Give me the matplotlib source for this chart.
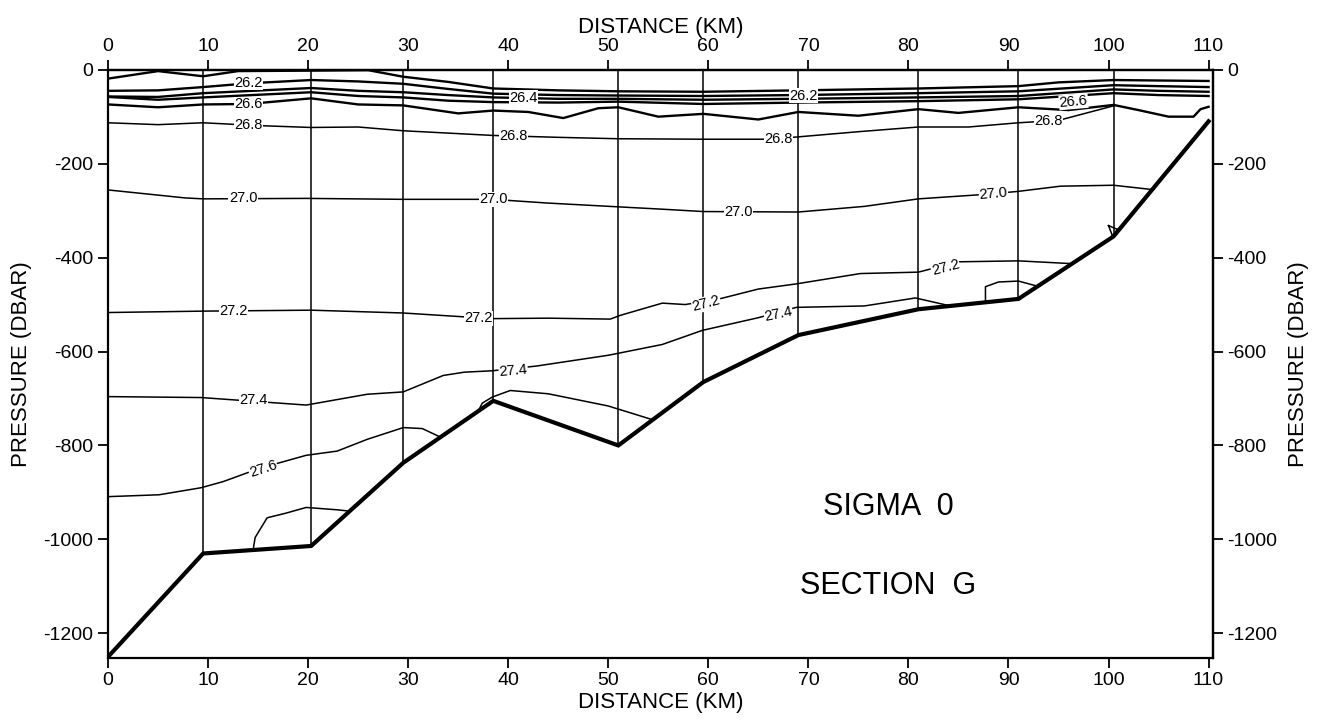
import numpy as np
import matplotlib.pyplot as plt

plt.rcParams['font.family'] = ['Liberation Sans', 'DejaVu Sans']
plt.rcParams['axes.unicode_minus'] = False

# stations (km) and bottom pressure (dbar)
stations = [0, 9.5, 20.3, 29.5, 38.5, 51, 59.5, 69, 81, 91, 100.5, 110]
bottom = [-1250, -1030, -1014, -837, -705, -800, -665, -565, -510, -488, -355, -110]

# near-surface isopycnals (bold)
x_l1 = [0, 5, 9.5, 13, 20, 26, 29.5, 34, 38.5, 45, 51, 59.5, 69, 81, 91, 95, 100.5, 105, 110]
p_l1 = [-19, -3, -14, -3, -2, -1, -15, -26, -40, -44, -46, -47, -44, -40, -35, -27, -22, -23, -24]
x_262 = [0, 5, 9.5, 14, 20.3, 25, 29.5, 34, 38.5, 45, 51, 59.5, 69, 81, 91, 100.5, 105, 110]
p_262 = [-45, -44, -37, -29, -22, -25, -30, -41, -51, -54, -55, -56, -54, -50, -46, -33, -35, -37]
x_l3 = [0, 5, 9.5, 20.3, 25, 29.5, 34, 38.5, 45, 51, 59.5, 69, 81, 91, 100.5, 105, 110]
p_l3 = [-57, -58, -50, -39, -45, -48, -54, -59, -62, -62, -64, -62, -59, -56, -42, -45, -47]
x_l4 = [0, 5, 9.5, 20.3, 25, 29.5, 34, 38.5, 45, 51, 59.5, 69, 81, 91, 100.5, 105, 110]
p_l4 = [-58, -64, -59, -48, -56, -59, -66, -69, -70, -68, -73, -70, -67, -63, -50, -54, -56]
x_266 = [0, 5, 9.5, 14, 20.3, 25, 29.5, 35, 38.5, 42, 45.5, 49, 51, 55, 59.5, 65, 69, 75,
         81, 85, 91, 96, 100.5, 103, 106, 108.5, 109.2, 110]
p_266 = [-74, -80, -74, -73, -61, -74, -76, -93, -87, -90, -103, -82, -80, -100, -94, -106, -90, -98,
         -84, -92, -80, -86, -75, -86, -100, -100, -84, -79]

# deeper isopycnals (thin)
x_268 = [0, 5, 9.5, 15, 20.3, 25, 29.5, 38.5, 45, 51, 59.5, 66, 69, 75, 81, 86, 91, 95, 100.5]
p_268 = [-113, -117, -113, -119, -123, -122, -130, -140, -144, -147, -148, -148, -143, -132, -122, -122, -113, -108, -77]
x_270 = [0, 7.7, 9.5, 19.8, 29.5, 38.4, 44, 51, 55.4, 59.5, 69, 75.6, 81, 88, 91, 95.2, 100.5, 104.3]
p_270 = [-256, -273, -275, -274, -276, -276, -284, -292, -297, -302, -303, -291, -275, -265, -259, -248, -246, -255]
x_272 = [0, 9.5, 20.3, 29.5, 38.4, 44, 50.2, 51.2, 55.4, 57.7, 61.1, 65, 68.8, 75.2, 81, 85, 91, 96.4]
p_272 = [-517, -514, -512, -518, -530, -529, -531, -523, -497, -500, -488, -467, -456, -434, -431, -409, -407, -413]
x_274 = [0, 9.3, 19.8, 25.9, 29.5, 33.5, 35.6, 38.4, 42.8, 50, 55.4, 59.4, 65, 68.8, 75.6, 80.7, 84]
p_274 = [-696, -698, -714, -691, -686, -651, -644, -641, -631, -608, -585, -555, -528, -506, -503, -486, -502]
x_275 = [37.0, 37.4, 38.4, 40.2, 44, 50, 54.4]
p_275 = [-727, -710, -697, -683, -690, -716, -745]
x_276 = [0, 5.1, 9.3, 11.5, 15.1, 19.8, 22.9, 25.9, 29.5, 31.4, 33.2]
p_276 = [-909, -905, -890, -877, -849, -821, -812, -787, -762, -764, -782]
x_277 = [14.5, 14.7, 15.9, 17.8, 19.8, 22.9, 24.2]
p_277 = [-1022, -996, -954, -944, -932, -937, -940]
x_box = [87.7, 87.7, 89, 91, 92.9]
p_box = [-495, -462, -452, -450, -461]
x_tri = [100.0, 100.4, 100.9, 100.0]
p_tri = [-332, -354, -340, -332]

# contour labels: text, x, p, rotation
lab_text = ['26.2', '26.6', '26.8', '26.4', '26.8', '27.0', '27.0', '27.2', '27.2', '27.4',
            '27.6', '27.4', '26.2', '26.8', '27.0', '27.2', '27.4', '27.0', '27.2', '26.8', '26.6']
lab_x = [14, 14, 14, 41.5, 40.5, 13.5, 38.5, 12.5, 37, 14.5,
         15.5, 40.5, 69.5, 67, 63, 59.8, 67, 88.5, 83.7, 94, 96.5]
lab_p = [-28, -73, -118, -60, -141, -274, -276, -513, -529, -704,
         -850, -640, -55, -148, -303, -498, -520, -264, -421, -110, -68]
lab_rot = [0, 0, 0, 0, 0, 0, 0, 0, 0, 0, 18, 5, 0, 0, 0, 15, 12, 5, 15, 0, 5]

fig = plt.figure(figsize=(13.18, 7.26), dpi=100)
ax = fig.add_axes([0.082, 0.094, 0.838, 0.81])

for xs, ps in [(x_l1, p_l1), (x_262, p_262), (x_l3, p_l3), (x_l4, p_l4), (x_266, p_266)]:
    ax.plot(xs, ps, color='black', lw=1.7)
for xs, ps in [(x_268, p_268), (x_270, p_270), (x_272, p_272), (x_274, p_274), (x_275, p_275),
               (x_276, p_276), (x_277, p_277), (x_box, p_box), (x_tri, p_tri)]:
    ax.plot(xs, ps, color='black', lw=1.1)

# station casts
ax.vlines(stations[1:-1], bottom[1:-1], 0, color='black', lw=1.1)
# bottom
ax.plot(stations, bottom, color='black', lw=3.0, solid_joinstyle='miter')

for t, x, p, r in zip(lab_text, lab_x, lab_p, lab_rot):
    ax.text(x, p, t, fontsize=10.5, ha='center', va='center', rotation=r,
            bbox=dict(facecolor='white', edgecolor='none', pad=0.3))

ax.text(78, -930, 'SIGMA  0', fontsize=22, ha='center', va='center')
ax.text(78, -1100, 'SECTION  G', fontsize=22, ha='center', va='center')

ax.set_xlim(0, 110.4)
ax.set_ylim(-1252, 0)
xt = list(range(0, 111, 10))
yt = list(range(-1200, 1, 200))
ax.set_xticks(xt)
ax.set_yticks(yt)
ax.set_xlabel('DISTANCE (KM)', fontsize=16, labelpad=2)
ax.set_ylabel('PRESSURE (DBAR)', fontsize=16, labelpad=8)
ax.tick_params(direction='out', length=7, width=1.3, labelsize=14)

top = ax.secondary_xaxis('top')
top.set_xticks(xt)
top.set_xlabel('DISTANCE (KM)', fontsize=16, labelpad=4)
top.tick_params(direction='out', length=7, width=1.3, labelsize=14)
right = ax.secondary_yaxis('right')
right.set_yticks(yt)
right.set_ylabel('PRESSURE (DBAR)', fontsize=16, labelpad=8)
right.tick_params(direction='out', length=7, width=1.3, labelsize=14)

for s in ax.spines.values():
    s.set_linewidth(1.6)
for s in list(top.spines.values()) + list(right.spines.values()):
    s.set_linewidth(1.6)

fig.savefig('out.png', dpi=100)
